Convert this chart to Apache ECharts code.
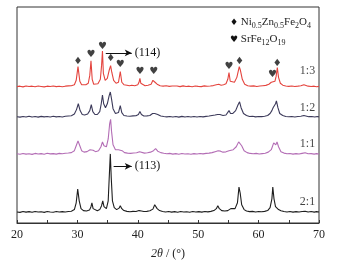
<!DOCTYPE html>
<html>
<head>
<meta charset="utf-8">
<script src="https://cdn.jsdelivr.net/npm/echarts/dist/echarts.min.js"></script>
<style>
  html, body { margin: 0; padding: 0; background: #fff; }
  #main { width: 337px; height: 265px; }
</style>
</head>
<body>
<div id="main"></div>
<script>
// XRD patterns, 2theta (deg) vs intensity above each sample's baseline (a.u.)
var sampleNames = ['2:1', '1:1', '1:2', '1:3'];
var sampleColors = ['#1e1e1e', '#b36db5', '#3c3a5a', '#e4443e'];
var baseOffsets = [10.7, 70, 108, 139];
var labelX = 68.1;
var labelY = [22, 81, 118, 156];

var xrd21 = [[20,0.6],[20.5,0.2],[21,1],[21.5,0.4],[22,0.9],[22.5,0.3],[23,1.1],[23.5,0.5],[24,0.8],[24.5,0.2],[25,1],[25.5,0.6],[26,0.3],[26.5,1.1],[27,0.5],[27.5,0.9],[28,0.6],[28.5,1],[29,1.4],[29.5,3],[29.8,10],[30.05,24],[30.3,12],[30.6,4],[31,2],[31.5,1.5],[32,2.5],[32.25,6],[32.4,10],[32.6,4],[32.9,2],[33.3,1.8],[33.7,3],[34.0,7],[34.2,12],[34.4,6],[34.8,4],[35.1,12],[35.3,40],[35.45,60],[35.6,36],[35.8,12],[36.1,5],[36.5,3],[36.9,4.5],[37.1,7],[37.35,4],[37.7,2],[38.2,1.2],[38.7,0.8],[39.2,1.2],[39.7,1],[40.2,2],[40.4,2.8],[40.6,1.5],[41,1],[41.5,1.2],[42,1.8],[42.5,3.5],[42.8,8],[42.95,9],[43.2,4],[43.6,2],[44.1,1],[44.6,0.6],[45.1,1],[45.6,0.4],[46.1,0.9],[46.6,0.3],[47.1,1],[47.6,0.5],[48.1,0.8],[48.6,0.3],[49.1,1],[49.6,0.6],[50.1,0.9],[50.6,0.4],[51.1,1.1],[51.6,0.7],[52.1,1.2],[52.6,2],[53.0,4],[53.25,7],[53.5,4],[53.9,2],[54.4,1.5],[54.9,2],[55.2,3],[55.4,4],[55.7,3],[56.1,4],[56.5,10],[56.75,26],[56.95,20],[57.2,8],[57.6,3],[58,1.5],[58.5,0.9],[59,1.2],[59.5,0.6],[60,1],[60.5,0.8],[61,1.2],[61.5,2],[61.9,5],[62.2,14],[62.35,26],[62.55,14],[62.8,6],[63.05,5],[63.3,3],[63.7,1.8],[64.2,1],[64.7,0.6],[65.2,1],[65.7,0.4],[66.2,0.9],[66.7,0.5],[67.2,1],[67.7,1.4],[68.2,0.6],[68.7,1],[69.2,0.4],[69.6,0.9],[70,0.5]];

var xrd11 = [[20,0.8],[20.5,0.3],[21,1.1],[21.5,0.5],[22,0.9],[22.5,0.2],[23,1.2],[23.5,0.6],[24,1],[24.5,0.4],[25,1.3],[25.5,0.7],[26,1],[26.5,0.5],[27,1.2],[27.5,0.8],[28,1.3],[28.5,1.6],[29,2],[29.5,4],[29.8,9],[30.1,14],[30.4,9],[30.7,4],[31.1,2.5],[31.6,3],[32.1,5],[32.35,7],[32.6,4.5],[33,3],[33.5,4],[33.9,8],[34.15,13],[34.4,9],[34.8,8],[35.1,16],[35.35,32],[35.5,36],[35.65,24],[35.9,10],[36.3,5],[36.8,5],[37.1,7],[37.4,4],[37.8,2],[38.3,1.5],[38.8,1.2],[39.3,1.6],[39.8,1.8],[40.3,3],[40.6,2],[41.1,1.5],[41.6,1.8],[42.1,2.5],[42.6,4],[42.95,6],[43.3,3.5],[43.8,2],[44.3,1.3],[44.8,0.8],[45.3,1.2],[45.8,0.5],[46.3,1],[46.8,0.4],[47.3,1.1],[47.8,0.6],[48.3,0.9],[48.8,0.3],[49.3,1],[49.8,0.6],[50.3,1.1],[50.8,0.7],[51.3,1.2],[51.8,1.5],[52.3,2],[52.8,3],[53.3,4],[53.7,3.5],[54.1,2.5],[54.6,2.8],[55.1,4],[55.4,3],[55.8,5],[56.3,8],[56.7,13],[56.9,14],[57.2,9],[57.6,4],[58.1,2],[58.6,1.2],[59.1,0.8],[59.6,1.2],[60.1,0.6],[60.6,1],[61.1,1.4],[61.6,2.5],[62.1,5],[62.5,12],[62.7,13],[62.85,10],[63.05,13],[63.3,8],[63.7,3],[64.2,1.5],[64.7,0.8],[65.2,1.1],[65.7,0.5],[66.2,1],[66.7,0.6],[67.2,1.2],[67.7,1.8],[68.2,0.8],[68.7,1],[69.2,0.5],[69.6,1],[70,0.6]];

var xrd12 = [[20,0.7],[20.5,0.3],[21,1],[21.5,0.5],[22,1.2],[22.5,0.4],[23,0.9],[23.5,0.3],[24,1.1],[24.5,0.6],[25,0.9],[25.5,0.4],[26,1.2],[26.5,0.6],[27,1],[27.5,0.5],[28,1.2],[28.5,1.5],[29,1.8],[29.5,3.5],[29.85,8],[30.15,14],[30.45,7],[30.8,3],[31.2,2.5],[31.7,3.5],[32.05,7],[32.3,13],[32.55,6],[32.9,3],[33.3,3],[33.7,6],[33.95,14],[34.15,23],[34.35,14],[34.65,10],[34.95,14],[35.25,22],[35.45,26],[35.65,19],[35.9,9],[36.3,4],[36.8,5],[37.1,12],[37.35,5],[37.7,2],[38.2,1.5],[38.7,1.2],[39.2,1.6],[39.7,1.8],[40.1,3],[40.35,6],[40.6,3],[41,1.5],[41.5,1.6],[42,2],[42.45,4],[42.65,5],[42.8,4],[43.0,5],[43.3,3],[43.8,1.5],[44.3,1],[44.8,0.6],[45.3,1],[45.8,0.4],[46.3,0.9],[46.8,0.3],[47.3,1.1],[47.8,0.5],[48.3,0.9],[48.8,0.4],[49.3,1],[49.8,0.5],[50.3,0.9],[50.8,0.6],[51.3,1.1],[51.8,1.4],[52.3,2],[52.8,2.5],[53.2,3],[53.6,3],[54.1,2],[54.6,2.5],[54.9,4],[55.1,7],[55.35,4],[55.7,4],[56.2,7],[56.6,13],[56.85,16],[57.1,10],[57.5,4],[58,2],[58.5,1],[59,1.3],[59.5,0.6],[60,1],[60.5,0.8],[61,1.3],[61.5,2],[61.9,4],[62.2,7],[62.4,10],[62.6,9],[62.8,14],[62.95,17],[63.2,10],[63.5,4],[64,2],[64.5,1],[65,0.7],[65.5,1],[66,0.5],[66.5,1],[67,1.3],[67.5,2],[67.8,1.8],[68.3,0.8],[68.8,1],[69.3,0.4],[69.7,0.9],[70,0.6]];

var xrd13 = [[20,0.5],[20.5,1],[21,0.3],[21.5,1.2],[22,0.6],[22.5,1],[23,0.4],[23.5,1.1],[24,0.7],[24.5,0.3],[25,1],[25.5,0.6],[26,1.2],[26.5,0.5],[27,0.9],[27.5,0.4],[28,1],[28.5,1.3],[29,1.5],[29.5,2.5],[29.8,7],[30.1,21],[30.4,6],[30.7,2.5],[31,2],[31.4,2.5],[31.8,4],[32.05,12],[32.25,27],[32.45,8],[32.7,3],[33,2.5],[33.4,3.5],[33.8,8],[34.0,22],[34.15,37],[34.3,14],[34.6,7],[34.95,9],[35.25,17],[35.5,22],[35.7,15],[36.0,7],[36.4,4],[36.8,5],[37.1,16],[37.35,5],[37.7,2.5],[38.2,2],[38.6,1.5],[39,2],[39.5,1.5],[40,2.5],[40.2,5],[40.35,9],[40.5,4],[40.8,2],[41.2,1.5],[41.7,2],[42.2,3],[42.5,7],[42.65,9],[42.85,5],[43.2,3],[43.7,1.5],[44.2,1],[44.7,1.4],[45.2,0.8],[45.7,1.2],[46,0.6],[46.5,1.1],[47,0.5],[47.5,1.3],[48,0.7],[48.5,1],[49,0.4],[49.5,1.2],[50,0.8],[50.5,0.5],[51,1.3],[51.5,0.9],[52,1.2],[52.5,1.6],[53,2.5],[53.4,3],[53.8,2],[54.2,2.5],[54.6,3.5],[54.9,8],[55.1,15],[55.3,6],[55.6,4],[56.0,5],[56.4,10],[56.8,21],[57.0,17],[57.3,8],[57.7,3],[58.2,1.5],[58.7,1],[59.2,1.3],[59.7,0.7],[60.2,1.1],[60.7,1.5],[61.2,1.8],[61.7,3],[62.1,5],[62.35,7],[62.7,6],[62.9,11],[63.1,20],[63.3,10],[63.6,4],[64,2],[64.5,1.2],[65,0.8],[65.5,1.1],[66,0.6],[66.5,1],[67,1.5],[67.5,2.5],[67.8,2],[68.2,1],[68.7,0.6],[69.2,1],[69.6,0.4],[70,0.8]];

var patterns = [xrd21, xrd11, xrd12, xrd13];

// phase markers (2theta, height on the shared scale)
var spinelMarks = [[30.1,165],[35.5,168],[56.85,165],[63.1,163]];
var hexaMarks = [[32.25,173],[34.15,181],[37.1,162],[40.35,155],[42.65,155],[55.1,160],[62.3,152]];

// reflection arrows: [x start, x end, height, text]
var arrow114 = [34.7, 39.0, 174, '(114)'];
var arrow113 = [36.0, 39.0, 58, '(113)'];

var serif = '"Liberation Serif", "Times New Roman", serif';
var myChart = echarts.init(document.getElementById('main'));

var series = patterns.map(function (pts, i) {
    return {
        name: sampleNames[i],
        type: 'line',
        showSymbol: false,
        symbol: 'none',
        lineStyle: { color: sampleColors[i], width: 1.1 },
        z: 2 + i,
        data: pts.map(function (p) { return [p[0], p[1] + baseOffsets[i]]; })
    };
});

function arrowLine(a) {
    return {
        silent: true,
        symbol: ['none', 'arrow'],
        symbolSize: [5, 7],
        lineStyle: { color: '#111', width: 1, type: 'solid' },
        label: {
            show: true, position: 'end', distance: 3, formatter: a[3],
            color: '#111', fontFamily: serif, fontSize: 12
        },
        data: [[{ coord: [a[0], a[2]] }, { coord: [a[1], a[2]] }]]
    };
}
series[3].markLine = arrowLine(arrow114);
series[0].markLine = arrowLine(arrow113);

function textSeries(pts, fmt, font, size) {
    return {
        type: 'scatter',
        symbolSize: 1,
        itemStyle: { color: 'rgba(0,0,0,0)' },
        z: 10,
        labelLayout: { hideOverlap: false },
        label: {
            show: true, position: 'inside', formatter: fmt,
            color: '#111', fontSize: size, fontFamily: font
        },
        data: pts
    };
}
series.push(textSeries(spinelMarks, '\u2666', 'DejaVu Sans', 10));
series.push(textSeries(hexaMarks, '\u2665', 'DejaVu Sans', 10));
series.push(textSeries(labelY.map(function (y) { return [labelX, y]; }),
    function (p) { return sampleNames[p.dataIndex]; }, serif, 12));

var subStyle = { fontSize: 8, fontFamily: serif, color: '#222', padding: [7, 0, 0, 0] };
var option = {
    animation: false,
    backgroundColor: '#fff',
    grid: { left: 17, right: 18, top: 7, bottom: 37, show: true, borderColor: '#333', borderWidth: 1 },
    xAxis: {
        type: 'value', min: 20, max: 70, interval: 10,
        name: '{i|2θ} / (°)', nameLocation: 'middle', nameGap: 25,
        nameTextStyle: {
            fontFamily: serif, fontSize: 12, color: '#222',
            rich: { i: { fontFamily: serif, fontSize: 12, fontStyle: 'italic', color: '#222' } }
        },
        axisLine: { lineStyle: { color: '#333' } },
        axisTick: { inside: true, length: 3, lineStyle: { color: '#333' } },
        minorTick: { show: true, splitNumber: 2, length: 3, lineStyle: { color: '#333' } },
        splitLine: { show: false },
        axisLabel: { fontFamily: serif, fontSize: 12, color: '#222', margin: 6 }
    },
    yAxis: { type: 'value', min: 0, max: 221, show: false },
    graphic: [
        {
            type: 'text', left: 230, top: 17,
            style: {
                text: '{m|\u2666} Ni{s|0.5}Zn{s|0.5}Fe{s|2}O{s|4}',
                font: '11px ' + serif, fill: '#222',
                rich: { m: { fontSize: 9, fontFamily: 'DejaVu Sans', fill: '#111' }, s: subStyle }
            }
        },
        {
            type: 'text', left: 230, top: 34,
            style: {
                text: '{m|\u2665} SrFe{s|12}O{s|19}',
                font: '11px ' + serif, fill: '#222',
                rich: { m: { fontSize: 9, fontFamily: 'DejaVu Sans', fill: '#111' }, s: subStyle }
            }
        }
    ],
    series: series
};
myChart.setOption(option);
</script>
</body>
</html>
